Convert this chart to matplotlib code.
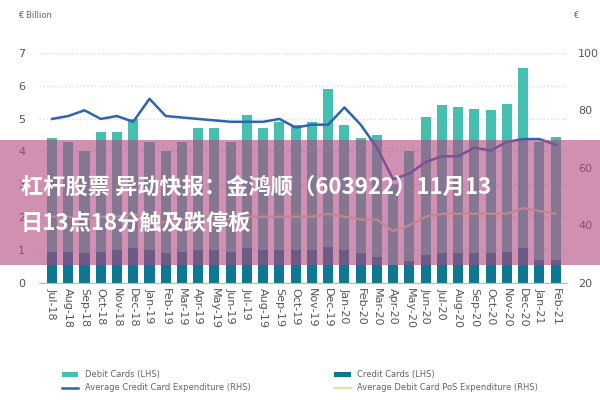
import matplotlib
matplotlib.use("Agg")
import matplotlib.pyplot as plt
from matplotlib.patches import Rectangle
import numpy as np

months = ["Jul-18", "Aug-18", "Sep-18", "Oct-18", "Nov-18", "Dec-18", "Jan-19", "Feb-19",
          "Mar-19", "Apr-19", "May-19", "Jun-19", "Jul-19", "Aug-19", "Sep-19", "Oct-19",
          "Nov-19", "Dec-19", "Jan-20", "Feb-20", "Mar-20", "Apr-20", "May-20", "Jun-20",
          "Jul-20", "Aug-20", "Sep-20", "Oct-20", "Nov-20", "Dec-20", "Jan-21", "Feb-21"]
credit_cards = [0.95, 0.95, 0.9, 0.95, 1.0, 1.05, 1.0, 0.9, 0.95, 1.0, 1.0, 0.95, 1.05, 1.0, 1.0, 1.0,
                1.0, 1.1, 1.0, 0.9, 0.8, 0.55, 0.65, 0.85, 0.9, 0.9, 0.9, 0.9, 0.95, 1.05, 0.7, 0.7]
total_cards = [4.4, 4.3, 4.0, 4.6, 4.6, 5.0, 4.3, 4.0, 4.3, 4.7, 4.7, 4.3, 5.1, 4.7, 4.9, 4.8,
               4.9, 5.9, 4.8, 4.4, 4.5, 3.0, 4.0, 5.05, 5.4, 5.35, 5.3, 5.25, 5.45, 6.55, 4.3, 4.45]
debit_cards = [t - c for t, c in zip(total_cards, credit_cards)]
avg_credit_exp = [77, 78, 80, 77, 78, 76, 84, 78, 77.5, 77, 76.5, 76, 76, 76, 77, 74,
                  75, 75, 81, 75, 67, 56, 58, 62, 64, 64, 67, 66, 69, 70, 70, 68]
avg_debit_exp = [43, 43, 42, 43, 43, 44, 42, 41, 42, 43, 43, 42, 43, 43, 43, 43,
                 43, 44, 43, 42, 42, 38, 40, 43, 44, 44, 44, 44, 44, 46, 45, 44]

fig = plt.figure(figsize=(6, 4), dpi=100)
ax = fig.add_axes([0.065, 0.293, 0.88, 0.575])
x = np.arange(len(months))
credit_bars = ax.bar(x, credit_cards, 0.62, color="#0e7893")
debit_bars = ax.bar(x, debit_cards, 0.62, bottom=credit_cards, color="#45c0b0")
ax.set_ylim(0, 7)
ax.set_xlim(-0.8, len(months) - 0.3)
ax.set_yticks(range(8))
ax.grid(axis="y", color="#dddddd", linestyle=":", linewidth=1)
ax.set_axisbelow(True)
for s in ["top", "right", "left"]:
    ax.spines[s].set_visible(False)
ax.spines["bottom"].set_color("#bbbbbb")
ax.set_xticks(x)
ax.set_xticklabels(months, rotation=-90, fontsize=8, color="#555555")
ax.tick_params(axis="both", length=0, colors="#555555", labelsize=8)
ax.tick_params(axis="y", pad=10)

ax2 = ax.twinx()
credit_line, = ax2.plot(x, avg_credit_exp, color="#2f64b4", linewidth=1.8)
debit_line, = ax2.plot(x, avg_debit_exp, color="#d8e8a8", linewidth=1.6)
ax2.set_ylim(20, 100)
ax2.set_yticks([20, 40, 60, 80, 100])
for s in ax2.spines.values():
    s.set_visible(False)
ax2.tick_params(axis="y", length=0, colors="#555555", labelsize=8, pad=8)

fig.text(0.03, 0.955, "€ Billion", fontsize=6, color="#666666")
fig.text(0.955, 0.955, "€", fontsize=6, color="#666666")

# ncol=2 fills column-wise, so interleave to get the reference's row order
handles = [debit_bars, credit_line, credit_bars, debit_line]
labels = ["Debit Cards (LHS)", "Average Credit Card Expenditure (RHS)",
          "Credit Cards (LHS)", "Average Debit Card PoS Expenditure (RHS)"]
fig.legend(handles, labels, loc="lower center", ncol=2, frameon=False, fontsize=6,
           bbox_to_anchor=(0.5, 0.0), columnspacing=10, labelcolor="#666666")

fig.patches.append(Rectangle((0, 0.338), 1, 0.312, transform=fig.transFigure,
                             facecolor="#b0477e", alpha=0.6, zorder=10))
fig.text(0.035, 0.515, "杠杆股票 异动快报：金鸿顺（603922）11月13", fontsize=16,
         fontweight="bold", color="white", family="Noto Sans CJK SC", zorder=11)
fig.text(0.035, 0.425, "日13点18分触及跌停板", fontsize=16,
         fontweight="bold", color="white", family="Noto Sans CJK SC", zorder=11)

fig.savefig("out.png", dpi=100)
